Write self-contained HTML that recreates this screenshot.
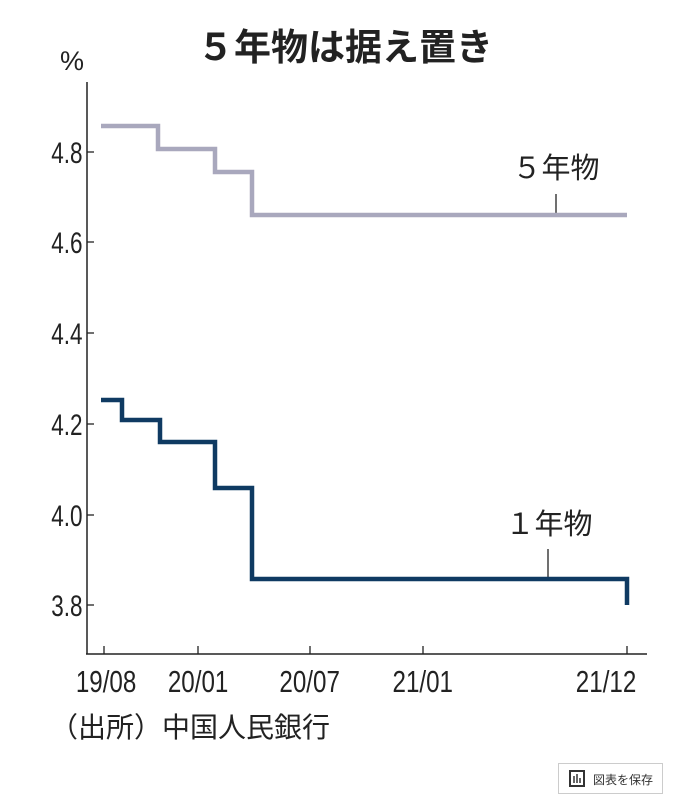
<!DOCTYPE html>
<html><head><meta charset="utf-8"><style>
body{margin:0;background:#fff;}
svg text{font-family:"Liberation Sans","Noto Sans CJK JP",sans-serif;}
</style></head><body>
<svg width="681" height="805" viewBox="0 0 681 805" xmlns="http://www.w3.org/2000/svg">
<rect width="681" height="805" fill="#fff"/>
<text x="345" y="60" text-anchor="middle" font-size="37" font-weight="bold" fill="#222" style="font-family:'Noto Sans CJK JP',sans-serif">５年物は据え置き</text>
<text x="72" y="70" text-anchor="middle" font-size="27" fill="#222">%</text>
<line x1="87" y1="82" x2="87" y2="654" stroke="#222" stroke-width="1.5"/>
<line x1="86" y1="654" x2="647" y2="654" stroke="#222" stroke-width="1.5"/>
<g stroke="#222" stroke-width="1.3">
<line x1="87" y1="152" x2="94" y2="152"/><line x1="87" y1="242" x2="94" y2="242"/>
<line x1="87" y1="333" x2="94" y2="333"/><line x1="87" y1="424" x2="94" y2="424"/>
<line x1="87" y1="515" x2="94" y2="515"/><line x1="87" y1="605" x2="94" y2="605"/>
<line x1="104" y1="646" x2="104" y2="654"/><line x1="198" y1="646" x2="198" y2="654"/>
<line x1="310" y1="646" x2="310" y2="654"/><line x1="423" y1="646" x2="423" y2="654"/>
<line x1="627" y1="646" x2="627" y2="654"/>
<line x1="556" y1="194" x2="556" y2="215"/><line x1="548" y1="549" x2="548" y2="578"/>
</g>
<g font-size="30" fill="#222" text-anchor="end" transform="scale(0.75,1)">
<text x="110" y="163">4.8</text><text x="110" y="253">4.6</text><text x="110" y="344">4.4</text>
<text x="110" y="435">4.2</text><text x="110" y="526">4.0</text><text x="110" y="616">3.8</text>
</g>
<g font-size="31" fill="#222" text-anchor="middle" transform="scale(0.78,1)">
<text x="robust" y="0"></text>
<text x="136" y="692">19/08</text><text x="254" y="692">20/01</text><text x="397" y="692">20/07</text>
<text x="542" y="692">21/01</text><text x="777" y="692">21/12</text>
</g>
<polyline fill="none" stroke="#a9a8bd" stroke-width="4.5" points="101,126 158,126 158,149 215,149 215,172 252,172 252,215 627,215"/>
<polyline fill="none" stroke="#0f3a62" stroke-width="4.5" points="101,400 122,400 122,420 160,420 160,442 215,442 215,488 252,488 252,579 627,579 627,605"/>
<text x="556" y="178" text-anchor="middle" font-size="29" fill="#222" style="font-family:'Noto Sans CJK JP',sans-serif">５年物</text>
<text x="549" y="534" text-anchor="middle" font-size="29" fill="#222" style="font-family:'Noto Sans CJK JP',sans-serif">１年物</text>
<text x="50" y="737" font-size="28" fill="#222" style="font-family:'Noto Sans CJK JP',sans-serif">（出所）中国人民銀行</text>
<rect x="558.5" y="763.5" width="104" height="30" fill="#fff" stroke="#ccc"/>
<rect x="570" y="771" width="14" height="15" fill="none" stroke="#333" stroke-width="2"/>
<line x1="574" y1="776" x2="574" y2="783" stroke="#333" stroke-width="1.5"/>
<line x1="577" y1="774" x2="577" y2="783" stroke="#333" stroke-width="1.5"/>
<line x1="580" y1="778" x2="580" y2="783" stroke="#333" stroke-width="1.5"/>
<text x="593" y="784" font-size="12" fill="#333" style="font-family:'Noto Sans CJK JP',sans-serif">図表を保存</text>
</svg>
</body></html>
